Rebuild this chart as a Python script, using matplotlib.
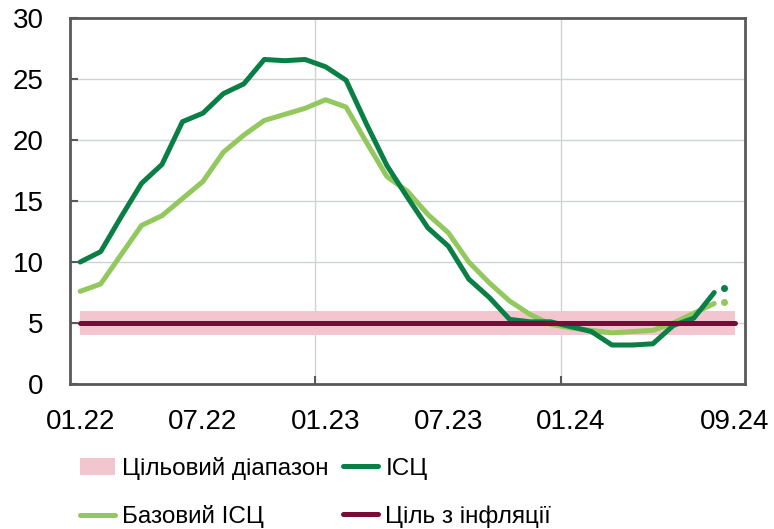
import matplotlib
matplotlib.use("Agg")
import matplotlib.pyplot as plt
import matplotlib.patches as mpatches
import numpy as np

plt.rcParams["font.family"] = ["Liberation Sans", "DejaVu Sans"]
plt.rcParams["font.size"] = 20

# monthly data, 01.22 .. 08.24
cpi = [10.0, 10.85, 13.7, 16.45, 18.0, 21.5, 22.2, 23.8, 24.6, 26.6, 26.5, 26.6,
       26.0, 24.9, 21.3, 17.9, 15.3, 12.8, 11.3, 8.6, 7.1, 5.3, 5.1, 5.1,
       4.7, 4.3, 3.2, 3.2, 3.3, 4.8, 5.4, 7.5]
core = [7.6, 8.2, 10.6, 13.0, 13.8, 15.2, 16.6, 19.0, 20.4, 21.6, 22.1, 22.6,
        23.3, 22.7, 19.8, 17.0, 15.8, 13.9, 12.4, 10.0, 8.3, 6.8, 5.7, 4.9,
        4.6, 4.4, 4.2, 4.3, 4.4, 5.0, 5.8, 6.6]
# September 2024 estimates (dots)
cpi_est = 7.9
core_est = 6.75
target = 5
band_lo, band_hi = 4, 6

# month index of each label (0 = 01.22)
tick_month = [0, 6, 12, 18, 24, 32]
tick_labels = ["01.22", "07.22", "01.23", "07.23", "01.24", "09.24"]

c_cpi = "#0A7F45"
c_core = "#92C85E"
c_target = "#7A0A36"
c_band = "#F3C6CF"
c_spine = "#595959"
c_grid = "#D0D3D6"

# months are categories: each value sits in the middle of its month slot
x = np.arange(len(cpi)) + 0.5
x_full = np.array([x[0], x[-1] + 1])

fig = plt.figure(figsize=(7.74, 5.29), dpi=100)
ax = fig.add_axes([0.0904, 0.274, 0.872, 0.692])

ax.fill_between(x_full, band_lo, band_hi, color=c_band, lw=0, zorder=1)
ax.plot(x_full, [target, target], color=c_target, lw=3.6, solid_capstyle="round", zorder=4)
ax.plot(x, core, color=c_core, lw=3.6, solid_capstyle="round", zorder=2)
ax.plot(x, cpi, color=c_cpi, lw=3.6, solid_capstyle="round", zorder=3)
ax.plot([x[-1] + 0.5], [cpi_est], "o", color=c_cpi, ms=4, zorder=3)
ax.plot([x[-1] + 0.5], [core_est], "o", color=c_core, ms=4, zorder=2)

ax.set_xlim(0, 33)
ax.set_ylim(0, 30)
ax.set_yticks(range(0, 31, 5))
ax.set_xticks(np.array(tick_month) + 0.5)
ax.set_xticklabels(tick_labels)
ax.set_xticks([12, 24], minor=True)
ax.tick_params(axis="y", direction="in", length=6, width=1.5, color=c_spine,
               labelsize=20, pad=19)
ax.tick_params(axis="x", which="major", length=0, labelsize=20, pad=18)
ax.tick_params(axis="x", which="minor", direction="in", length=6, width=1.5, color=c_spine)
for s in ax.spines.values():
    s.set_color(c_spine)
    s.set_linewidth(2)

ax.grid(axis="y", color=c_grid, lw=1)
for m in [12, 24]:
    ax.axvline(m, color=c_grid, lw=1, zorder=0)
ax.set_axisbelow(True)

h_band = mpatches.Patch(color=c_band, lw=0)
h_cpi = plt.Line2D([], [], color=c_cpi, lw=3.6, solid_capstyle="round")
h_core = plt.Line2D([], [], color=c_core, lw=3.6, solid_capstyle="round")
h_target = plt.Line2D([], [], color=c_target, lw=3.6, solid_capstyle="round")
fig.legend([h_band, h_core, h_cpi, h_target],
           ["Цільовий діапазон", "Базовий ІСЦ", "ІСЦ", "Ціль з інфляції"],
           ncol=2, frameon=False, loc="upper left", bbox_to_anchor=(0.103, 0.137),
           handlelength=1.44, handleheight=0.7, handletextpad=0.29,
           columnspacing=0.62, labelspacing=1.05, borderaxespad=0, borderpad=0,
           prop={"size": 17.5})

fig.savefig("out.png", dpi=100)
